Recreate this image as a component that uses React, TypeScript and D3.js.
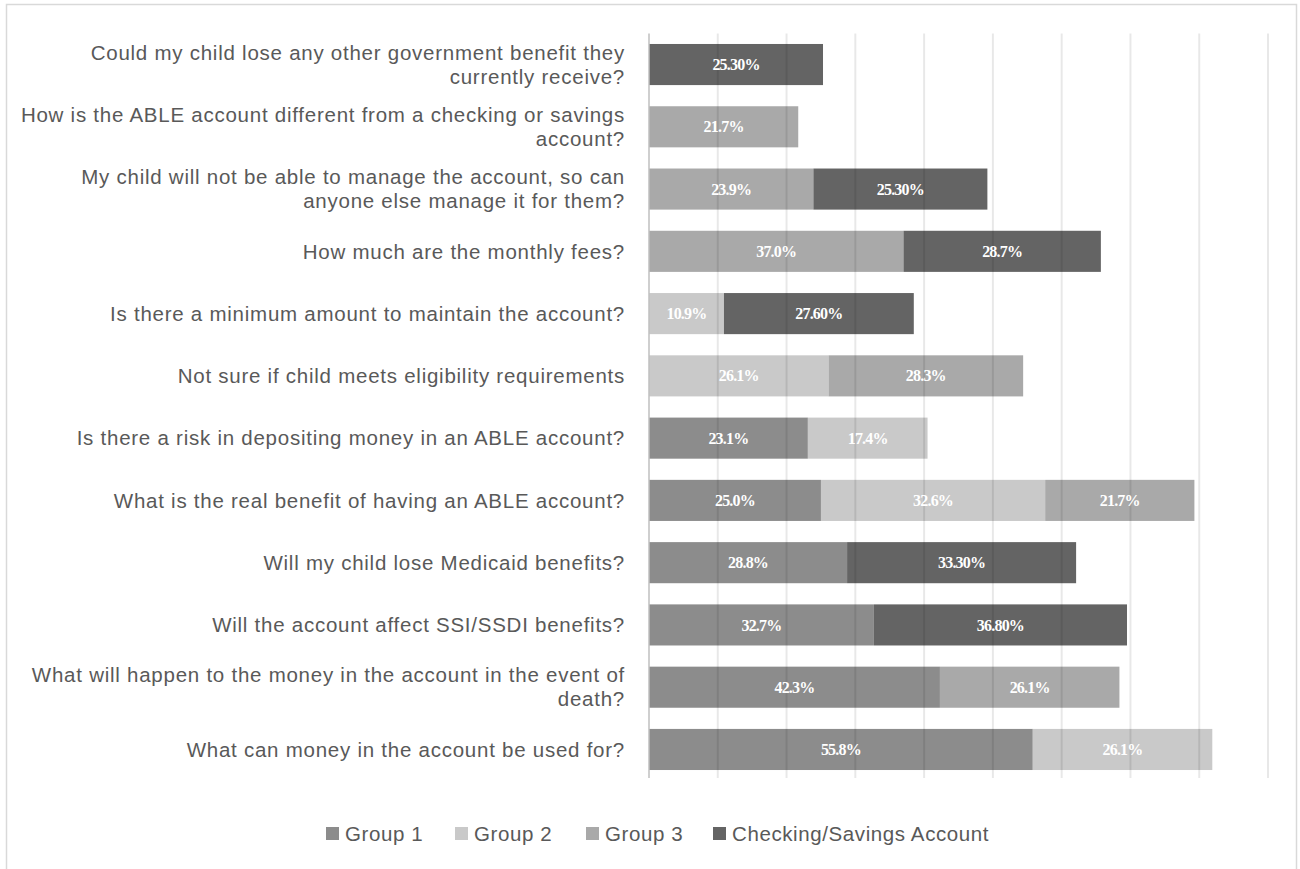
import React from "react";
import * as d3 from "d3";

const categories = [
  "Could my child lose any other government benefit they\ncurrently receive?",
  "How is the ABLE account different from a checking or savings\naccount?",
  "My child will not be able to manage the account, so can\nanyone else manage it for them?",
  "How much are the monthly fees?",
  "Is there a minimum amount to maintain the account?",
  "Not sure if child meets eligibility requirements",
  "Is there a risk in depositing money in an ABLE account?",
  "What is the real benefit of having an ABLE account?",
  "Will my child lose Medicaid benefits?",
  "Will the account affect SSI/SSDI benefits?",
  "What will happen to the money in the account in the event of\ndeath?",
  "What can money in the account be used for?",
];

const seriesNames = ["Group 1", "Group 2", "Group 3", "Checking/Savings Account"];
const group1 = [0, 0, 0, 0, 0, 0, 23.1, 25.0, 28.8, 32.7, 42.3, 55.8];
const group2 = [0, 0, 0, 0, 10.9, 26.1, 17.4, 32.6, 0, 0, 0, 26.1];
const group3 = [0, 21.7, 23.9, 37.0, 0, 28.3, 0, 21.7, 0, 0, 26.1, 0];
const checking = [25.3, 0, 25.3, 28.7, 27.6, 0, 0, 0, 33.3, 36.8, 0, 0];
const checkingLabels = ["25.30%", "", "25.30%", "28.7%", "27.60%", "", "", "", "33.30%", "36.80%", "", ""];
const xTicks = [0, 10, 20, 30, 40, 50, 60, 70, 80, 90];

const colors = ["#8c8c8c", "#c9c9c9", "#a9a9a9", "#646464"];

export default function App() {
  const W = 1300;
  const H = 869;
  const x0 = 649;
  const x1 = 1268;
  const yTop = 33.4;
  const yBot = 780.6;

  const x = d3.scaleLinear().domain([0, 90]).range([x0, x1]);
  const y = d3
    .scaleBand<number>()
    .domain(d3.range(categories.length))
    .range([yTop, yBot])
    .paddingInner(0.34)
    .paddingOuter(0.17);

  const seriesData = [group1, group2, group3, checking];
  const rows = categories.map((_, i) => ({
    i,
    s0: group1[i],
    s1: group2[i],
    s2: group3[i],
    s3: checking[i],
  }));
  const stack = d3.stack<any>().keys(["s0", "s1", "s2", "s3"]);
  const stacked = stack(rows);

  const labelFor = (si: number, i: number) => {
    if (si === 3) return checkingLabels[i];
    return d3.format(".1f")(seriesData[si][i]) + "%";
  };

  const legendX = [326, 455, 586, 713];
  const textFont = "'Liberation Sans', Arial, sans-serif";

  return (
    <svg
      width={W}
      height={H}
      style={{ position: "absolute", left: 0, top: 0, background: "#fff" }}
    >
      <rect x={6.5} y={4.5} width={1290} height={H + 10} fill="#fff" stroke="#d9d9d9" strokeWidth={1.5} />
      {stacked.map((layer, si) => (
        <g key={si}>
          {layer.map((d, i) =>
            d[1] - d[0] > 0 ? (
              <rect
                key={i}
                x={x(d[0])}
                y={y(i)}
                width={x(d[1]) - x(d[0])}
                height={y.bandwidth()}
                fill={colors[si]}
              />
            ) : null
          )}
        </g>
      ))}
      {xTicks.slice(1).map((t) => (
        <line
          key={t}
          x1={x(t)}
          x2={x(t)}
          y1={yTop}
          y2={778}
          stroke="#000"
          strokeOpacity={0.09}
          strokeWidth={2}
        />
      ))}
      <line x1={x0} x2={x0} y1={yTop} y2={778} stroke="#bfbfbf" strokeWidth={1.5} />
      {stacked.map((layer, si) => (
        <g key={"l" + si}>
          {layer.map((d, i) =>
            d[1] - d[0] > 0 ? (
              <text
                key={i}
                x={(x(d[0]) + x(d[1])) / 2}
                y={y(i)! + y.bandwidth() / 2}
                dy="0.35em"
                textAnchor="middle"
                fill="#fff"
                fontFamily="'Liberation Serif', serif"
                fontWeight="bold"
                fontSize={16}
                letterSpacing={-0.8}
              >
                {labelFor(si, i)}
              </text>
            ) : null
          )}
        </g>
      ))}
      {categories.map((c, i) => {
        const lines = c.split("\n");
        const cy = y(i)! + y.bandwidth() / 2;
        const lh = 24;
        const start = cy - ((lines.length - 1) * lh) / 2;
        return (
          <text
            key={i}
            textAnchor="end"
            fill="#595959"
            fontFamily={textFont}
            fontSize={20.5}
            letterSpacing={0.75}
          >
            {lines.map((l, k) => (
              <tspan key={k} x={625} y={start + k * lh} dy="0.35em">
                {l}
              </tspan>
            ))}
          </text>
        );
      })}
      {seriesNames.map((n, si) => (
        <g key={n}>
          <rect x={legendX[si]} y={827} width={13} height={13} fill={colors[si]} />
          <text
            x={legendX[si] + 19}
            y={833.5}
            dy="0.35em"
            fill="#595959"
            fontFamily={textFont}
            fontSize={20.5}
            letterSpacing={0.6}
          >
            {n}
          </text>
        </g>
      ))}
    </svg>
  );
}
